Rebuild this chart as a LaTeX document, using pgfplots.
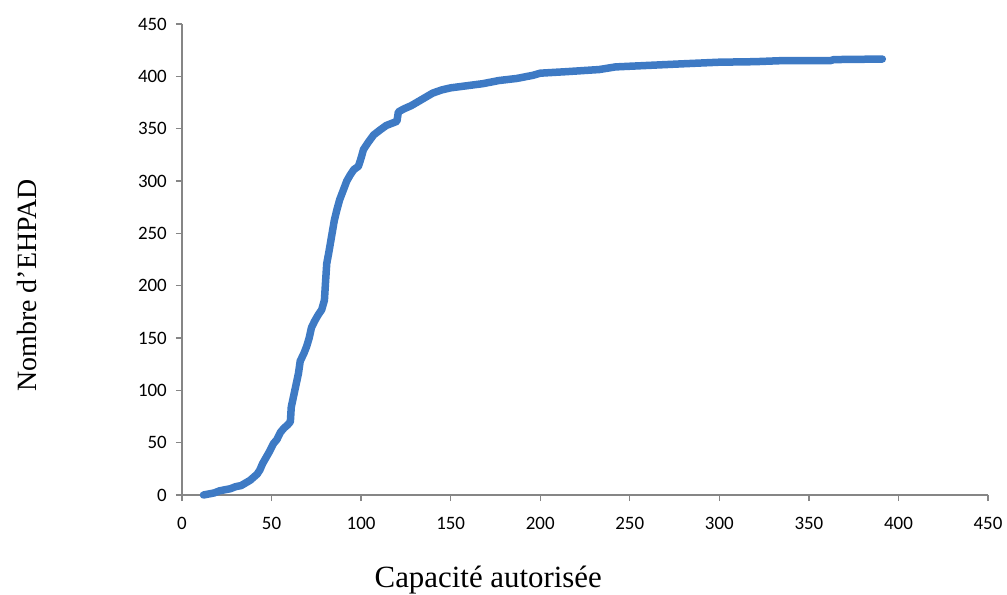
\documentclass[border=0pt]{standalone}
\usepackage{fontspec}
\setmainfont{Liberation Serif}
\newfontfamily\tickfont{Carlito}
\usepackage{pgfplots}
\pgfplotsset{compat=1.18}
\definecolor{lineblue}{RGB}{62,122,196}
\definecolor{axgray}{RGB}{134,134,134}
\begin{document}
\begin{tikzpicture}
\useasboundingbox (0,0) rectangle (1007bp,595bp);
\begin{axis}[
  at={(182bp,100bp)}, anchor=south west,
  scale only axis, width=806bp, height=471bp,
  xmin=0, xmax=450, ymin=0, ymax=450,
  xtick={0,50,...,450}, ytick={0,50,...,450},
  axis x line*=bottom, axis y line*=left,
  axis line style={axgray, line width=1.5bp, -},
  tick align=outside, major tick length=6bp,
  xtick style={draw=axgray, line width=1.3bp},
  ytick style={draw=axgray, line width=1.3bp},
  /pgf/number format/assume math mode=true,
  ticklabel style={font=\tickfont\fontsize{19}{19}\selectfont, text=black},
  xticklabel style={inner sep=0pt, anchor=base, yshift=-28bp},
  yticklabel style={inner sep=0pt, anchor=east, xshift=-9bp},
  xlabel={Capacité autorisée},
  ylabel={Nombre d’EHPAD},
  xlabel style={font=\fontsize{31}{31}\selectfont, anchor=base, at={(axis description cs:0.380,-0.197)}},
  ylabel style={font=\fontsize{28}{28}\selectfont, anchor=center, at={(axis description cs:-0.1923,0.4448)}},
  clip=false,
]
\addplot[lineblue, line width=7.5bp, line join=round, line cap=round] coordinates {
(12,0) (15,1) (18,2) (21,4) (24,5) (27,6) (30,8) (33,9) (36,12) (38,14)
(40,17) (42,20) (43.5,24) (45,30) (47,36) (49,42) (51,49) (53,53) (55,60) (57,64)
(59,67) (60.5,70) (61,84) (62,92) (63,100) (64,108) (65,116) (66,128) (68,135) (69.6,142)
(71,150) (72.3,160) (74,166) (76,172) (78,177) (79.5,186) (80.2,205) (80.8,221) (82,232) (83.5,247)
(85,262) (86.4,272) (88,282) (90,291) (92,300) (94,306) (96,311) (98.5,314) (100,322) (101.3,330)
(104,337) (107,344) (110,348) (114,353) (117,355) (120,357) (120.8,366) (124,369) (128,372) (131,375)
(135,379) (140,384) (145,387) (150,389) (159,391) (168,393) (177,396) (187,398) (196,401) (200,403)
(215,404.5) (233,406.5) (242,409) (261,410.5) (280,412) (300,413.5) (320,414) (335,415) (362,415) (364,416)
(380,416.3) (391,416.5)
};
\end{axis}
\end{tikzpicture}
\end{document}
